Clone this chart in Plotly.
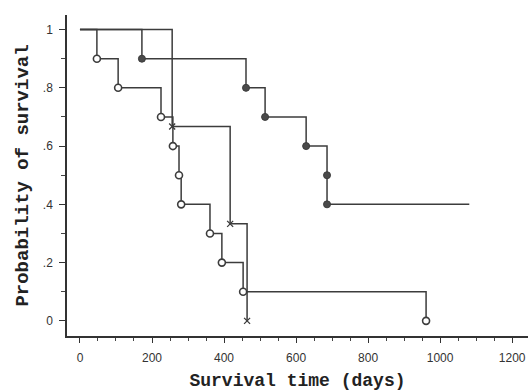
import plotly.graph_objects as go

# Group 1 (open circles)
g1_times = [47, 106, 225, 258, 275, 281, 361, 394, 453, 961]
g1_surv = [0.9, 0.8, 0.7, 0.6, 0.5, 0.4, 0.3, 0.2, 0.1, 0.0]
g1_end = 961

# Group 2 (filled circles)
g2_times = [172, 461, 514, 628, 686, 686]
g2_surv = [0.9, 0.8, 0.7, 0.6, 0.5, 0.4]
g2_end = 1081

# Group 3 (crosses)
g3_times = [256, 417, 464]
g3_surv = [0.667, 0.333, 0.0]
g3_end = 464

x_tickvals = [0, 200, 400, 600, 800, 1000, 1200]
y_tickvals = [0, 0.2, 0.4, 0.6, 0.8, 1.0]
y_ticktext = ["0", ".2", ".4", ".6", ".8", "1"]

LINE = "#3c3c3c"
TXT = "#333333"
MONO = "Liberation Mono, Courier New, monospace"

fig = go.Figure()


def step_trace(times, surv, end):
    xs = [0] + list(times) + [end]
    ys = [1.0] + list(surv) + [surv[-1]]
    return go.Scatter(x=xs, y=ys, mode="lines", line=dict(shape="hv", color=LINE, width=1.5),
                      showlegend=False, hoverinfo="skip")


fig.add_trace(step_trace(g1_times, g1_surv, g1_end))
fig.add_trace(step_trace(g2_times, g2_surv, g2_end))
fig.add_trace(step_trace(g3_times, g3_surv, g3_end))

fig.add_trace(go.Scatter(x=g1_times, y=g1_surv, mode="markers", showlegend=False,
                         marker=dict(symbol="circle", size=7, color="white",
                                     line=dict(color=LINE, width=1.6))))
fig.add_trace(go.Scatter(x=g2_times, y=g2_surv, mode="markers", showlegend=False,
                         marker=dict(symbol="circle", size=7, color="#4a4a4a",
                                     line=dict(color=LINE, width=1))))
fig.add_trace(go.Scatter(x=g3_times, y=g3_surv, mode="markers", showlegend=False,
                         marker=dict(symbol="x-thin-open", size=6, color=LINE,
                                     line=dict(color=LINE, width=1.3))))

fig.update_layout(
    template="none",
    width=528, height=392,
    margin=dict(l=67, r=0, t=15, b=56),
    paper_bgcolor="white", plot_bgcolor="white",
    font=dict(family="Liberation Sans, Arial, sans-serif", size=12, color=TXT),
)
fig.update_xaxes(
    range=[-36, 1244], showgrid=False, zeroline=False, automargin=False,
    showline=True, linecolor=TXT, linewidth=1.5,
    tickvals=x_tickvals, ticks="outside", ticklen=5, tickcolor=TXT, tickwidth=1,
    ticklabelstandoff=5, tickfont=dict(color=TXT, size=12),
    minor=dict(dtick=50, tick0=0, ticks="outside", ticklen=3, tickcolor="#444"),
    title=dict(text="<b>Survival time (days)</b>", standoff=9,
               font=dict(family=MONO, size=18, color="#222")),
)
fig.update_yaxes(
    range=[-0.052, 1.05], showgrid=False, zeroline=False, automargin=False,
    showline=True, linecolor=TXT, linewidth=1.5,
    tickvals=y_tickvals, ticktext=y_ticktext, ticks="outside", ticklen=6,
    tickcolor=TXT, tickwidth=1, ticklabelstandoff=4, tickfont=dict(color=TXT, size=12),
    minor=dict(dtick=0.1, tick0=0, ticks="outside", ticklen=4, tickcolor="#444"),
    title=dict(text="<b>Probability of survival</b>", standoff=9,
               font=dict(family=MONO, size=19, color="#222")),
)

# remove the default 8px page margin so the 528x392 figure fills the window exactly
fig.write_html("out.html", config={"displayModeBar": False},
               post_script="document.body.style.margin='0';")
